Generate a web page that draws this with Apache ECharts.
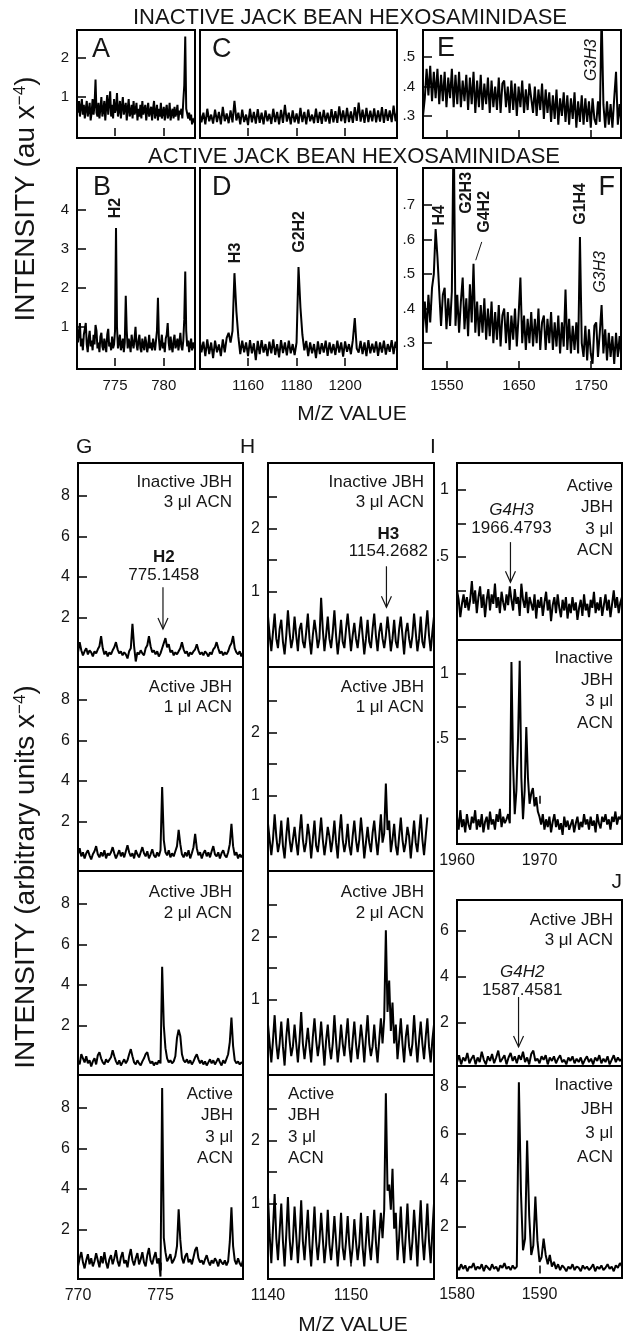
<!DOCTYPE html>
<html><head><meta charset="utf-8">
<script src="https://cdn.jsdelivr.net/npm/echarts@6.0.0/dist/echarts.min.js"></script>
<style>html,body{margin:0;padding:0;background:#fff}#c{width:624px;height:1338px}</style>
</head><body><div id="c"></div>
<script>
// ---------------- DATA ----------------
// Top section: x sampled from x0 with step dx
const A_x0 = 771.1, A_dx = 0.1;
const A = [0.85,0.6,0.9,0.5,0.75,0.95,0.55,0.8,0.45,0.7,
0.9,0.5,0.65,0.85,0.4,0.6,0.95,0.55,0.8,1.45,
0.6,0.5,0.85,0.45,0.7,1.0,0.5,0.65,0.9,0.4,
0.75,1.05,0.55,0.6,1.15,0.5,0.8,0.45,0.95,0.6,
0.7,1.1,0.5,0.65,0.9,0.45,0.75,1.0,0.55,0.6,
0.85,0.4,0.7,0.95,0.5,0.6,0.8,0.45,0.9,0.55,
0.65,0.85,0.4,0.7,0.5,0.8,0.45,0.9,0.55,0.6,
0.8,0.4,0.65,0.85,0.5,0.55,0.75,0.4,0.7,0.9,
0.45,0.6,0.8,0.4,0.7,0.5,0.85,0.45,0.6,0.75,
0.4,0.65,0.8,0.45,0.55,0.85,0.4,0.6,0.7,0.45,
0.75,0.5,0.6,0.8,0.4,0.65,0.55,0.7,0.45,0.9,
1.3,2.55,0.7,0.75,0.45,0.6,0.4,0.55,0.3,0.45,
0.35,0.5];
const B = [1.0,0.6,0.85,1.1,0.5,0.7,0.4,0.8,0.95,1.1,
0.55,0.35,0.7,0.9,0.5,0.65,0.4,0.8,0.55,1.05,
0.9,0.45,0.6,0.35,0.75,0.85,0.5,0.4,0.7,0.55,
0.35,0.8,0.95,0.5,0.6,0.4,0.75,0.45,0.55,0.9,
3.54,1.0,0.45,0.6,0.8,0.4,0.55,0.7,0.35,0.6,
1.8,0.9,0.45,0.7,0.55,0.35,0.8,0.6,0.45,0.7,
1.0,0.55,0.4,0.65,0.8,0.45,0.35,0.7,0.55,0.4,
0.75,0.6,0.35,0.5,0.8,0.45,0.6,0.4,0.7,0.55,
0.4,0.65,0.9,1.75,0.7,0.4,0.55,0.8,0.45,0.6,
0.35,0.7,0.8,1.1,0.6,0.4,0.75,0.5,0.35,0.65,
0.8,0.45,0.55,0.7,0.4,0.6,0.85,0.5,0.4,0.65,
1.2,2.42,0.9,0.5,0.65,0.35,0.55,0.7,0.4,0.6,
0.45,0.55];
const C_x0 = 1140, C_dx = 0.8;
const C = [0.65,0.35,0.6,0.3,0.7,0.38,0.55,0.32,0.68,0.36,
0.62,0.3,0.75,0.38,0.58,0.33,0.66,0.35,0.9,0.4,
0.6,0.3,0.68,0.36,0.55,0.28,0.7,0.35,0.62,0.32,
0.69,0.34,0.6,0.3,0.66,0.38,0.57,0.31,0.7,0.36,
0.62,0.3,0.67,0.34,0.8,0.37,0.6,0.3,0.66,0.35,
0.58,0.32,0.72,0.36,0.62,0.3,0.68,0.38,0.55,0.33,
0.7,0.34,0.62,0.31,0.67,0.37,0.6,0.32,0.69,0.35,
0.64,0.34,0.76,0.38,0.66,0.33,0.72,0.36,0.63,0.34,
0.74,0.39,0.86,0.37,0.68,0.34,0.72,0.36,0.65,0.38,
0.71,0.35,0.66,0.37,0.74,0.34,0.69,0.39,0.66,0.36,
0.78,0.38,0.68];
const D = [0.72,0.35,0.62,0.25,0.68,0.3,0.6,0.2,0.65,0.35,
0.55,0.25,0.68,0.35,0.72,0.85,0.6,0.9,2.38,1.4,
0.75,0.3,0.65,0.35,0.6,0.25,0.66,0.32,0.58,0.15,
0.64,0.3,0.66,0.34,0.56,0.25,0.62,0.32,0.68,0.28,
0.56,0.22,0.66,0.33,0.6,0.27,0.65,0.32,0.56,0.28,
0.6,2.54,1.5,0.8,0.4,0.64,0.25,0.6,0.32,0.56,
0.2,0.63,0.3,0.58,0.34,0.65,0.26,0.6,0.32,0.56,
0.28,0.65,0.34,0.6,0.24,0.63,0.36,0.56,0.3,0.66,
1.23,0.45,0.34,0.64,0.3,0.6,0.25,0.66,0.32,0.57,
0.34,0.63,0.26,0.6,0.34,0.65,0.29,0.56,0.36,0.66,
0.3,0.62,0.4];
const E_x0 = 1517, E_dx = 2.5;
const E = [0.30,0.36,0.46,0.37,0.47,0.35,0.45,0.36,0.46,0.34,
0.44,0.35,0.45,0.33,0.43,0.36,0.46,0.33,0.44,0.34,
0.45,0.33,0.42,0.35,0.44,0.32,0.43,0.34,0.45,0.31,
0.42,0.33,0.44,0.32,0.41,0.34,0.43,0.31,0.42,0.33,
0.40,0.32,0.43,0.31,0.41,0.42,0.33,0.40,0.31,0.42,
0.32,0.41,0.30,0.40,0.33,0.42,0.31,0.39,0.32,0.41,
0.41,0.31,0.40,0.30,0.39,0.32,0.41,0.29,0.39,0.31,
0.38,0.28,0.37,0.29,0.39,0.27,0.36,0.30,0.38,0.28,
0.37,0.27,0.36,0.29,0.38,0.26,0.35,0.28,0.37,0.27,
0.36,0.28,0.35,0.26,0.36,0.29,0.27,0.35,0.28,0.65,
0.34,0.26,0.35,0.27,0.34,0.26,0.36,0.45,0.27,0.34,
0.27];
const F = [0.34,0.42,0.33,0.44,0.36,0.46,0.50,0.63,0.55,0.45,
0.35,0.44,0.46,0.34,0.43,0.35,0.45,0.95,0.35,0.44,
0.33,0.42,0.49,0.34,0.43,0.32,0.47,0.36,0.53,0.33,
0.42,0.32,0.41,0.33,0.43,0.31,0.40,0.32,0.42,0.30,
0.39,0.31,0.41,0.29,0.38,0.40,0.30,0.39,0.28,0.38,
0.31,0.40,0.29,0.38,0.49,0.30,0.38,0.28,0.37,0.30,
0.39,0.29,0.37,0.30,0.40,0.28,0.36,0.38,0.28,0.37,
0.30,0.39,0.28,0.36,0.29,0.38,0.27,0.36,0.29,0.455,
0.28,0.37,0.27,0.35,0.28,0.36,0.27,0.607,0.30,0.26,
0.35,0.25,0.34,0.27,0.24,0.35,0.36,0.26,0.33,0.41,
0.27,0.34,0.25,0.33,0.26,0.32,0.24,0.33,0.26,0.32,
0.25];
// Bottom section
const G_x0 = 770, G_dx = 0.1;
const G1 = [0.3,0.8,0.4,0.15,0.35,0.5,0.2,0.4,0.3,0.1,
0.35,0.25,0.45,0.6,1.1,0.5,0.2,0.35,0.1,0.3,
0.2,0.4,0.55,0.8,0.45,0.25,0.35,0.15,0.3,0.2,
0.0,0.35,0.5,1.7,0.6,-0.15,0.3,0.2,0.4,0.25,
0.15,0.5,0.65,1.1,0.6,0.3,0.4,0.2,0.35,0.1,
0.25,0.5,0.75,1.0,0.55,0.7,0.3,0.4,0.15,0.3,
0.2,0.35,0.5,0.8,0.45,0.25,0.35,0.1,0.3,0.2,
0.35,0.45,0.7,0.4,0.2,0.3,0.15,0.35,0.25,0.1,
0.3,0.2,0.45,0.55,0.8,0.5,0.25,0.35,0.15,0.3,
0.2,0.35,0.6,0.75,1.1,0.5,0.3,0.2,0.35,0.1,
0.3];
const G2 = [0.4,0.7,0.3,0.5,0.2,0.45,0.6,0.35,0.15,0.4,
0.55,0.8,0.4,0.25,0.5,0.3,0.6,0.2,0.45,0.35,
0.5,0.75,0.45,0.2,0.4,0.6,0.3,0.5,0.25,0.55,
0.85,0.5,0.3,0.45,0.2,0.6,0.4,0.25,0.5,0.75,
0.45,0.3,0.55,0.2,0.4,0.65,0.35,0.25,0.5,0.3,
0.6,3.7,1.1,0.5,0.35,0.6,0.25,0.45,0.3,0.55,
0.8,1.6,0.9,0.4,0.25,0.5,0.3,0.6,0.2,0.45,
0.75,1.4,0.7,0.35,0.5,0.2,0.45,0.6,0.3,0.5,
0.25,0.55,0.8,0.4,0.3,0.5,0.2,0.45,0.6,0.35,
0.25,0.5,0.9,1.9,0.8,0.35,0.5,0.2,0.4,0.25,
0.4];
const G3 = [0.3,0.1,0.6,0.4,0.2,0.5,0.15,0.3,0.0,0.25,
0.4,0.1,0.55,0.7,0.4,0.2,0.1,0.35,0.2,0.15,
0.45,0.8,0.5,0.25,0.1,0.3,0.05,0.2,0.35,0.15,
0.3,0.6,0.85,0.5,0.2,0.1,0.3,0.15,0.05,0.25,
0.4,0.6,0.7,0.35,0.15,0.25,0.05,0.2,0.1,0.3,
0.15,4.9,2.0,0.9,0.4,0.2,0.3,0.15,0.25,0.5,
1.4,1.8,1.5,0.6,0.3,0.2,0.35,0.15,0.3,0.1,
0.25,0.45,0.6,0.35,0.15,0.3,0.1,0.25,0.05,0.2,
0.35,0.15,0.3,0.1,0.25,0.4,0.2,0.05,0.3,0.15,
0.2,0.6,1.2,2.4,1.0,0.3,0.15,0.25,0.1,0.2,
0.15];
const G4 = [0.2,0.6,0.9,0.4,0.1,0.5,0.8,0.3,0.6,0.2,
0.45,0.85,0.5,0.15,0.7,0.35,0.9,0.4,0.1,0.55,
0.75,0.3,0.6,1.0,0.45,0.2,0.65,0.9,0.35,0.5,
0.15,0.7,1.05,0.5,0.25,0.6,0.85,0.3,0.55,0.9,
0.4,0.2,0.75,1.1,0.5,0.3,0.65,0.9,0.35,0.6,
-0.3,8.96,1.6,0.9,0.45,0.6,0.8,0.35,0.5,0.7,
1.2,3.0,1.5,0.6,0.35,0.7,0.85,0.4,0.55,0.3,
0.65,1.0,1.15,0.6,0.4,0.5,0.3,0.55,0.75,0.45,
0.25,0.5,0.35,0.6,0.45,0.2,0.55,0.4,0.3,0.5,
0.25,0.45,1.4,3.1,1.2,0.5,0.3,0.6,0.35,0.2,
0.5];
const H_x0 = 1140, H_dx = 0.2;
const H1 = [0.6,0.3,0.05,0.35, 0.65,0.25,0.1,0.4, 0.55,0.2,0.0,0.3, 0.7,0.35,0.1,0.25,
0.6,0.3,0.05,0.4, 0.5,0.2,0.1,0.35, 0.65,0.25,0.0,0.3, 0.55,0.35,0.1,0.25,
0.9,0.4,0.05,0.3, 0.6,0.25,0.1,0.35, 0.7,0.3,0.0,0.25, 0.55,0.2,0.1,0.4,
0.65,0.35,0.05,0.3, 0.5,0.25,0.1,0.35, 0.6,0.3,0.0,0.25, 0.55,0.2,0.1,0.4,
0.65,0.3,0.05,0.35, 0.5,0.25,0.1,0.3, 0.6,0.35,0.05,0.25, 0.55,0.2,0.1,0.4,
0.6,0.3,0.0,0.35, 0.5,0.25,0.1,0.3, 0.65,0.35,0.05,0.25, 0.6,0.2,0.1,0.4,
0.7,0.3,0.05,0.35, 0.6];
const H2 = [0.55,0.3,0.05,0.3, 0.7,0.35,0.1,0.25, 0.6,0.2,0.0,0.35, 0.65,0.3,0.1,0.3,
0.5,0.25,0.05,0.4, 0.7,0.3,0.1,0.25, 0.55,0.35,0.0,0.3, 0.6,0.2,0.1,0.35,
0.65,0.3,0.05,0.25, 0.5,0.35,0.1,0.3, 0.6,0.25,0.0,0.4, 0.7,0.3,0.1,0.25,
0.55,0.2,0.05,0.35, 0.6,0.3,0.1,0.3, 0.65,0.35,0.0,0.25, 0.5,0.25,0.1,0.4,
0.6,0.3,0.05,0.35, 0.7,0.25,0.4,1.19, 0.45,0.6,0.1,0.3, 0.55,0.2,0.05,0.35,
0.65,0.3,0.1,0.25, 0.5,0.35,0.0,0.3, 0.6,0.25,0.1,0.4, 0.7,0.3,0.05,0.35,
0.65];
const H3 = [0.6,0.3,0.0,0.35, 0.75,0.3,0.05,0.3, 0.65,0.25,-0.05,0.4, 0.7,0.35,0.1,0.25,
0.6,0.3,0.0,0.35, 0.8,0.3,0.05,0.3, 0.55,0.25,0.0,0.4, 0.7,0.35,0.1,0.3,
0.65,0.3,-0.05,0.35, 0.6,0.25,0.05,0.3, 0.75,0.35,0.0,0.25, 0.6,0.3,0.1,0.4,
0.7,0.25,0.0,0.35, 0.65,0.3,0.05,0.3, 0.6,0.35,0.0,0.4, 0.75,0.3,0.1,0.25,
0.6,0.25,0.0,0.35, 0.7,0.3,0.7,2.1, 0.8,1.3,0.5,0.95, 0.3,0.6,0.05,0.35,
0.7,0.3,0.0,0.4, 0.6,0.25,0.1,0.3, 0.75,0.35,0.0,0.35, 0.65,0.3,0.05,0.4,
0.7,0.25,0.0,0.35, 0.6];
const H4 = [1.1,0.5,0.05,0.6, 1.15,0.45,0.1,0.55, 1.0,0.4,0.0,0.5, 1.1,0.45,0.1,0.4,
0.95,0.5,0.05,0.45, 1.05,0.4,0.1,0.5, 0.9,0.35,0.0,0.45, 0.95,0.4,0.1,0.4,
0.85,0.45,0.05,0.35, 0.9,0.35,0.1,0.4, 0.8,0.4,0.0,0.35, 0.85,0.3,0.1,0.4,
0.8,0.35,0.05,0.3, 0.75,0.4,0.1,0.35, 0.85,0.3,0.0,0.4, 0.8,0.35,0.1,0.45,
0.9,0.4,0.05,0.5, 0.85,0.45,0.9,2.75, 1.2,1.3,0.9,1.55, 0.6,0.85,0.1,0.45,
0.95,0.4,0.05,0.5, 1.0,0.45,0.1,0.4, 0.9,0.5,0.0,0.55, 1.05,0.45,0.1,0.5,
1.0,0.4,0.05,0.55, 1.0];
const I_x0 = 1960, I_dx = 0.2;
const I1 = [0.25,0.18,0.05,0.15,0.22,0.12,0.2,0.1,0.18,0.32,
0.15,0.25,0.08,0.2,0.28,0.12,0.22,0.05,0.18,0.26,
0.1,0.22,0.15,0.3,0.12,0.2,0.08,0.24,0.16,0.1,
0.22,0.14,0.28,0.18,0.1,0.26,0.15,0.2,0.06,0.3,
0.18,0.12,0.24,0.08,0.2,0.15,0.1,0.22,0.04,0.18,
0.12,0.2,0.06,0.16,0.24,0.1,0.18,0.02,0.14,0.2,
0.08,0.22,0.12,0.05,0.18,0.1,0.2,0.04,0.15,0.08,
0.2,0.1,0.16,0.03,0.12,0.18,0.06,0.22,0.1,0.15,
0.05,0.18,0.12,0.24,0.08,0.16,0.1,0.2,0.06,0.14,
0.22,0.1,0.18,0.05,0.15,0.25,0.12,0.2,0.08,0.16,
0.2];
const I2 = [-0.1,-0.2,-0.05,-0.18,-0.12,-0.22,-0.08,-0.16,-0.2,-0.1,
-0.15,-0.05,-0.2,-0.12,-0.18,-0.08,-0.22,-0.14,-0.1,-0.2,
-0.06,-0.16,-0.12,-0.2,-0.08,-0.14,-0.04,-0.18,-0.1,-0.15,
-0.12,-0.08,-0.15,1.09,0.3,-0.08,0.1,0.5,1.1,0.2,
-0.12,0.1,0.59,0.2,0.0,0.08,0.12,-0.02,0.05,-0.06,
-0.1,-0.16,-0.08,-0.2,-0.12,-0.18,-0.1,-0.22,-0.14,-0.08,
-0.18,-0.12,-0.2,-0.15,-0.24,-0.1,-0.18,-0.13,-0.2,-0.16,
-0.12,-0.22,-0.15,-0.1,-0.2,-0.14,-0.18,-0.08,-0.16,-0.12,
-0.2,-0.1,-0.17,-0.13,-0.22,-0.08,-0.15,-0.19,-0.1,-0.14,
-0.08,-0.16,-0.12,-0.2,-0.1,-0.14,-0.06,-0.16,-0.1,-0.12,
-0.08];
const J_x0 = 1580, J_dx = 0.25;
const J1 = [0.3,0.6,0.2,0.5,0.35,0.7,0.25,0.45,0.6,0.2,
0.5,0.3,0.75,0.4,0.2,0.55,0.35,0.65,0.25,0.5,
0.8,0.3,0.45,0.6,0.2,0.5,0.7,0.35,0.55,0.25,
0.6,0.4,0.75,0.3,0.5,0.2,0.65,0.8,0.35,0.45,
0.25,0.55,0.4,0.6,0.2,0.5,0.35,0.55,0.25,0.45,
0.6,0.3,0.4,0.2,0.5,0.35,0.55,0.25,0.45,0.3,
0.5,0.2,0.4,0.55,0.3,0.45,0.2,0.5,0.35,0.6,
0.25,0.45,0.3,0.55,0.2,0.4,0.6,0.3,0.5,0.35,
0.45];
const J2 = [0.3,0.15,0.4,0.2,0.35,0.1,0.3,0.25,0.45,0.15,
0.3,0.2,0.4,0.1,0.35,0.25,0.15,0.4,0.2,0.3,
0.1,0.35,0.25,0.45,0.2,0.3,0.15,0.35,0.2,0.3,
8.2,3.5,1.0,1.5,5.7,2.5,0.8,1.2,3.3,1.4,
0.5,0.7,1.5,0.8,0.4,0.8,0.3,0.5,0.2,0.4,
0.15,0.35,0.25,0.1,0.3,0.2,0.4,0.15,0.3,0.25,
0.1,0.35,0.2,0.3,0.15,0.25,0.4,0.1,0.3,0.2,
0.35,0.15,0.25,0.4,0.2,0.3,0.1,0.35,0.25,0.45,
0.3];
// tick values
const T_AB_x = [775, 780], T_CD_x = [1160, 1180, 1200], T_EF_x = [1550, 1650, 1750];
const T_A_y = [1, 2], T_B_y = [1, 2, 3, 4], T_E_y = [0.3, 0.4, 0.5], T_F_y = [0.3, 0.4, 0.5, 0.6, 0.7];
const T_G_y = [2, 4, 6, 8], T_G_x = [775], L_G_x = [770, 775];
const T_H_y = [1, 1.5, 2, 2.5], L_H_y = [1, 2], T_H_x = [1150], L_H_x = [1140, 1150];
const T_I_y = [0.25, 0.5, 0.75, 1], L_I_y = [0.5, 1], T_I_x = [1970], L_I_x = [1960, 1970];
const T_J1_y = [2, 4, 6], T_J2_y = [2, 4, 6, 8], T_J_x = [1590], L_J_x = [1580, 1590];

// ---------------- LAYOUT ----------------
const FONT = "'Liberation Sans', Arial, sans-serif";
const INK = '#151515';
const P = [
 {id:'A', box:[77,30,118,108], x:[771.1,783.2], y:[-0.05,2.72], d:A, x0:A_x0, dx:A_dx, xt:T_AB_x, yt:T_A_y, yl:T_A_y, fs:15},
 {id:'B', box:[77,168,118,201], x:[771.1,783.2], y:[-0.08,5.08], d:B, x0:A_x0, dx:A_dx, xt:T_AB_x, xl:T_AB_x, yt:T_B_y, yl:T_B_y, fs:15},
 {id:'C', box:[200,30,197,108], x:[1140.2,1221.4], y:[-0.05,2.72], d:C, x0:C_x0, dx:C_dx, xt:T_CD_x, fs:15},
 {id:'D', box:[200,168,197,201], x:[1140.2,1221.4], y:[-0.08,5.08], d:D, x0:C_x0, dx:C_dx, xt:T_CD_x, xl:T_CD_x, fs:15},
 {id:'E', box:[423,30,198,108], x:[1517,1791.4], y:[0.225,0.592], d:E, x0:E_x0, dx:E_dx, xt:T_EF_x, yt:T_E_y, yl:T_E_y, fs:15},
 {id:'F', box:[423,168,198,201], x:[1517,1791.4], y:[0.225,0.807], d:F, x0:E_x0, dx:E_dx, xt:T_EF_x, xl:T_EF_x, yt:T_F_y, yl:T_F_y, fs:15},
 {id:'G1', box:[78,463,165,204], x:[770,780], y:[-0.42,9.6], d:G1, x0:G_x0, dx:G_dx, yt:T_G_y, yl:T_G_y, fs:16},
 {id:'G2', box:[78,667,165,204], x:[770,780], y:[-0.42,9.6], d:G2, x0:G_x0, dx:G_dx, yt:T_G_y, yl:T_G_y, fs:16},
 {id:'G3', box:[78,871,165,204], x:[770,780], y:[-0.42,9.6], d:G3, x0:G_x0, dx:G_dx, yt:T_G_y, yl:T_G_y, fs:16},
 {id:'G4', box:[78,1075,165,204], x:[770,780], y:[-0.42,9.6], d:G4, x0:G_x0, dx:G_dx, yt:T_G_y, yl:T_G_y, xt:T_G_x, xl:L_G_x, fs:16},
 {id:'H1', box:[268,463,166,204], x:[1140,1160], y:[-0.2,3.04], d:H1, x0:H_x0, dx:H_dx, yt:T_H_y, yl:L_H_y, fs:16},
 {id:'H2', box:[268,667,166,204], x:[1140,1160], y:[-0.2,3.04], d:H2, x0:H_x0, dx:H_dx, yt:T_H_y, yl:L_H_y, fs:16},
 {id:'H3', box:[268,871,166,204], x:[1140,1160], y:[-0.2,3.04], d:H3, x0:H_x0, dx:H_dx, yt:T_H_y, yl:L_H_y, fs:16},
 {id:'H4', box:[268,1075,166,204], x:[1140,1160], y:[-0.2,3.04], d:H4, x0:H_x0, dx:H_dx, yt:T_H_y, yl:L_H_y, xt:T_H_x, xl:L_H_x, fs:16},
 {id:'I1', box:[457,463,165,177], x:[1960,1980], y:[-0.12,1.2], d:I1, x0:I_x0, dx:I_dx, yt:T_I_y, yl:L_I_y, fs:16},
 {id:'I2', box:[457,640,165,204], x:[1960,1980], y:[-0.31,1.26], d:I2, x0:I_x0, dx:I_dx, yt:T_I_y, yl:L_I_y, xt:T_I_x, xl:L_I_x, fs:16},
 {id:'J1', box:[457,900,165,166], x:[1580,1600], y:[0.13,7.35], d:J1, x0:J_x0, dx:J_dx, yt:T_J1_y, yl:T_J1_y, fs:16},
 {id:'J2', box:[457,1066,165,212], x:[1580,1600], y:[-0.19,8.9], d:J2, x0:J_x0, dx:J_dx, yt:T_J2_y, yl:T_J2_y, xt:T_J_x, xl:L_J_x, fs:16}
];
const fmt = v => (v < 1 && v > 0) ? String(v).replace(/^0/, '') : String(v);
const fmtX = v => String(v);

const grids = [], xAxes = [], yAxes = [], series = [];
P.forEach((p, k) => {
  grids.push({left:p.box[0], top:p.box[1], width:p.box[2], height:p.box[3], show:true,
    borderColor:'#000', borderWidth:2, backgroundColor:'rgba(0,0,0,0)'});
  xAxes.push({type:'value', gridIndex:k, min:p.x[0], max:p.x[1],
    axisLine:{show:false}, splitLine:{show:false},
    axisTick:{show:!!p.xt, inside:true, length:8, lineStyle:{color:'#000', width:1.5}, customValues:p.xt||[]},
    axisLabel:{show:!!p.xl, customValues:p.xl||[], margin:9, color:INK, fontSize:p.fs, fontFamily:FONT, formatter:fmtX}});
  yAxes.push({type:'value', gridIndex:k, min:p.y[0], max:p.y[1],
    axisLine:{show:false}, splitLine:{show:false},
    axisTick:{show:!!p.yt, inside:true, length:9, lineStyle:{color:'#000', width:1.5}, customValues:p.yt||[]},
    axisLabel:{show:!!p.yl, customValues:p.yl||[], margin:8, color:INK, fontSize:p.fs, fontFamily:FONT, formatter:fmt}});
  series.push({type:'line', xAxisIndex:k, yAxisIndex:k, symbol:'none', silent:true, clip:true,
    lineStyle:{color:'#000', width:2}, animation:false,
    data:p.d.map((v, i) => [+(p.x0 + i * p.dx).toFixed(3), v])});
});

const chart = echarts.init(document.getElementById('c'));
chart.setOption({animation:false, backgroundColor:'#fff', grid:grids, xAxis:xAxes, yAxis:yAxes, series:series});

const gi = {}; P.forEach((p, k) => gi[p.id] = k);
const pix = (id, x, y) => chart.convertToPixel({gridIndex: gi[id]}, [x, y]);
function T(x, y, s, size, o) {
  o = o || {};
  return {type:'text', x:x, y:y, rotation:o.rot || 0, silent:true, z:10,
    style:{text:s, fontSize:size, fontFamily:FONT, fontWeight:o.bold ? 'bold' : 'normal',
      fontStyle:o.it ? 'italic' : 'normal', fill:INK, align:o.align || 'center', verticalAlign:'middle'}};
}
function TD(id, x, y, s, size, o) { const q = pix(id, x, y); return T(q[0], q[1], s, size, o); }
function arrow(id, x, yTail, yTip) {
  const a = pix(id, x, yTail), b = pix(id, x, yTip);
  return [{type:'line', silent:true, z:10, shape:{x1:a[0], y1:a[1], x2:b[0], y2:b[1]}, style:{stroke:INK, lineWidth:1.2}},
          {type:'polyline', silent:true, z:10, shape:{points:[[b[0]-5, b[1]-11], [b[0], b[1]], [b[0]+5, b[1]-11]]}, style:{stroke:INK, lineWidth:1.2, fill:null}}];
}
function seg(id, x1, y1, x2, y2) {
  const a = pix(id, x1, y1), b = pix(id, x2, y2);
  return {type:'line', silent:true, z:10, shape:{x1:a[0], y1:a[1], x2:b[0], y2:b[1]}, style:{stroke:INK, lineWidth:1}};
}
const R = Math.PI / 2;
const g = [];
// section titles
g.push(T(350, 18, 'INACTIVE JACK BEAN HEXOSAMINIDASE', 22));
g.push(T(354, 157, 'ACTIVE JACK BEAN HEXOSAMINIDASE', 22));
g.push(T(352, 414, 'M/Z VALUE', 21));
g.push(T(353, 1325, 'M/Z VALUE', 21));
// y titles with superscript
function ytitle(x, y, main) {
  return {type:'text', x:x, y:y, rotation:R, silent:true,
    style:{text:'{a|' + main + ' x}{b|\u22124}{a|)}', fill:INK, align:'center', verticalAlign:'middle',
      rich:{a:{fontSize:28, fontFamily:FONT, fill:INK}, b:{fontSize:17, fontFamily:FONT, fill:INK, verticalAlign:'top'}}}};
}
g.push(ytitle(26, 199, 'INTENSITY (au'));
g.push(ytitle(26, 877, 'INTENSITY (arbitrary units'));
// panel letters
g.push(T(92, 50, 'A', 27, {align:'left'}));
g.push(T(212, 50, 'C', 27, {align:'left'}));
g.push(T(437, 49, 'E', 27, {align:'left'}));
g.push(T(93, 188, 'B', 27, {align:'left'}));
g.push(T(212, 188, 'D', 27, {align:'left'}));
g.push(T(615, 188, 'F', 27, {align:'right'}));
g.push(T(76, 447, 'G', 21, {align:'left'}));
g.push(T(240, 447, 'H', 21, {align:'left'}));
g.push(T(430, 447, 'I', 21, {align:'left'}));
g.push(T(622, 882, 'J', 21, {align:'right'}));
// peak labels top section
g.push(TD('B', 775.1, 4.05, 'H2', 16, {rot:R, bold:true}));
g.push(TD('D', 1154.8, 2.9, 'H3', 16, {rot:R, bold:true}));
g.push(TD('D', 1181.4, 3.44, 'G2H2', 16, {rot:R, bold:true}));
g.push(TD('E', 1750.1, 0.49, 'G3H3', 16, {rot:R, it:true}));
g.push(TD('F', 1540.4, 0.67, 'H4', 16, {rot:R, bold:true}));
g.push(TD('F', 1577.7, 0.735, 'G2H3', 16, {rot:R, bold:true}));
g.push(TD('F', 1602.5, 0.68, 'G4H2', 16, {rot:R, bold:true}));
g.push(seg('F', 1598.4, 0.593, 1590.1, 0.54));
g.push(TD('F', 1735.6, 0.703, 'G1H4', 16, {rot:R, bold:true}));
g.push(TD('F', 1763.2, 0.506, 'G3H3', 16, {rot:R, it:true}));
// annotations bottom section
g.push(TD('G1', 775.2, 4.95, 'H2', 17, {bold:true}));
g.push(TD('G1', 775.2, 4.1, '775.1458', 17));
g.push(...arrow('G1', 775.15, 3.5, 1.45));
g.push(TD('H1', 1154.5, 1.9, 'H3', 17, {bold:true}));
g.push(TD('H1', 1154.5, 1.63, '1154.2682', 17));
g.push(...arrow('H1', 1154.27, 1.4, 0.75));
g.push(TD('I1', 1966.6, 0.85, 'G4H3', 17, {it:true}));
g.push(TD('I1', 1966.6, 0.71, '1966.4793', 17));
g.push(...arrow('I1', 1966.48, 0.61, 0.31));
g.push(TD('J1', 1587.9, 4.22, 'G4H2', 17, {it:true}));
g.push(TD('J1', 1587.9, 3.43, '1587.4581', 17));
g.push(...arrow('J1', 1587.46, 3.13, 0.96));
// condition texts
function block(xr, ys, lines, align) { lines.forEach((s, i) => g.push(T(xr, ys[i], s, 17, {align:align || 'right'}))); }
block(232, [482, 502], ['Inactive JBH', '3 \u03bcl ACN']);
block(232, [687, 707], ['Active JBH', '1 \u03bcl ACN']);
block(232, [892, 913], ['Active JBH', '2 \u03bcl ACN']);
block(233, [1094, 1115.5, 1137, 1158.5], ['Active', 'JBH', '3 \u03bcl', 'ACN']);
block(424, [482, 502], ['Inactive JBH', '3 \u03bcl ACN']);
block(424, [687, 707], ['Active JBH', '1 \u03bcl ACN']);
block(424, [892, 913], ['Active JBH', '2 \u03bcl ACN']);
block(288, [1094, 1115.5, 1137, 1158.5], ['Active', 'JBH', '3 \u03bcl', 'ACN'], 'left');
block(613, [486, 507.5, 529, 550.5], ['Active', 'JBH', '3 \u03bcl', 'ACN']);
block(613, [658, 680, 701.5, 723], ['Inactive', 'JBH', '3 \u03bcl', 'ACN']);
block(613, [920, 940], ['Active JBH', '3 \u03bcl ACN']);
block(613, [1085, 1109, 1133, 1157], ['Inactive', 'JBH', '3 \u03bcl', 'ACN']);
chart.setOption({graphic:g});
</script></body></html>
